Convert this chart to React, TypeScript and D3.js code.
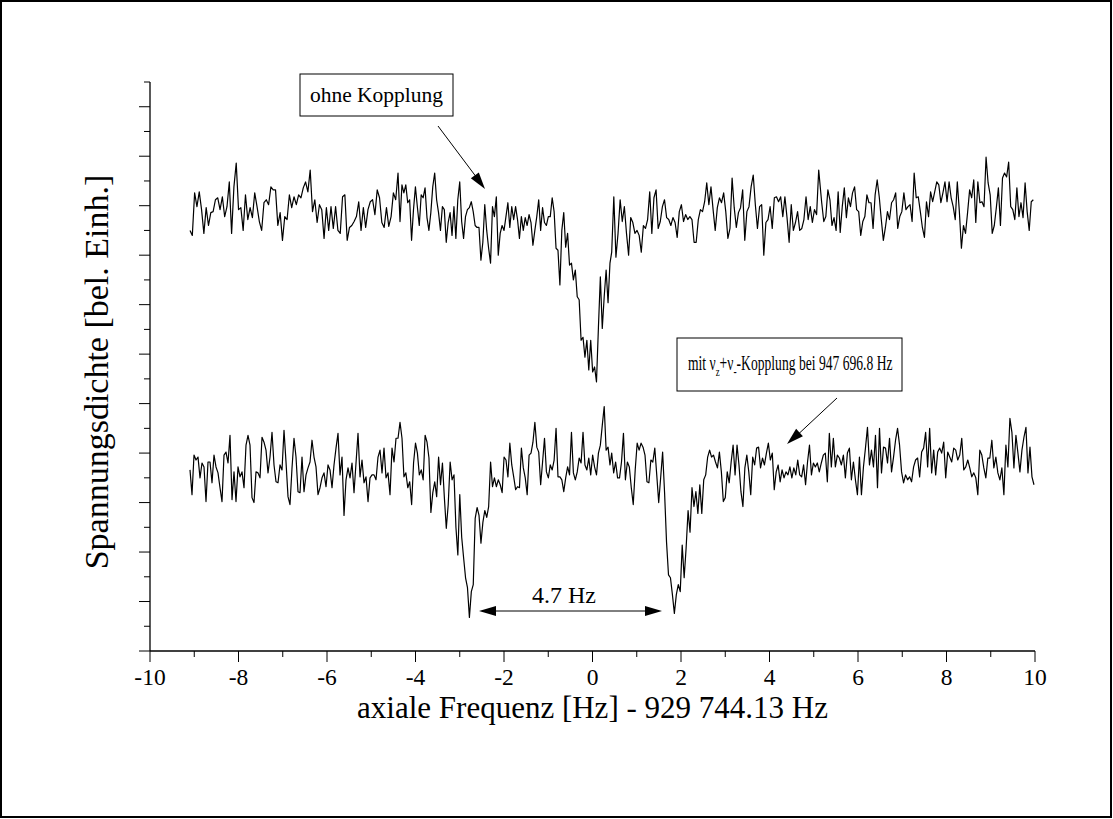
import React from "react";
import * as d3 from "d3";

// Upper trace ("ohne Kopplung"), arbitrary units
const U1 = [425,420,463,449,464,446,422,448,430,443,444,456,458,446,459,439,449,474,422,469,493,446,448,425,461,436,448,438,463,449,434,425,453,456,451,469,466,466,430,443,415,439,436,461,448,459,451,461,458,468,474,464,486,444,456,433,451,446,417,448,425,449,427,449,425,422,459,461,415,428,430,434,439,454,425,448,428,446,454,456,441,466,458,433,428,448,429,439,463,456,483];
const U2 = [434,471,463,471,453,456,415,446,469,449,430,461,458,468,438,425,443,469,483,456,443,425,449,446,413,433,443,420,449,417,456,474,434,417,439,446,448,454,444,430,428,428,395,413,451,425,407,392,449,439,459,400,422,430,425,439,453,428,449,436,449,436,417,439,425,438,430,441,433,410,425,439,456,425,448,433,430,439,439,458,444,407,405,370,425,443,408,422,390,392,375,385,358,355,314,317,297,314,284,314,282,287,272,327,378,326,358,385,352,392];
const U3 = [403,459,398,422,456,434,449,422,400,438,433,422,425,420,403,430,427,436,464,422,458,466,427,434,449,456,438,436,430,438,433,418,444,451,434,441,436,439,436,413,413,436,446,444,454,473,451,469,446,425,448,458,453,463,444,417,427,478,448,428,443,448,466,415,444,449,469,481,451,427,449,451,400,433,436,449,427,458,459,454,459,439,459,438,413,451,425,433,444,425,427,436,459,436,449,433,446,441,486];
const U4 = [453,434,439,466,456,430,438,425,464,423,449,468,438,458,449,463,469,446,444,420,434,439,461,453,453,427,461,476,459,436,415,428,444,436,453,456,463,427,439,444,463,446,449,451,434,483,458,459,444,428,418,454,439,464,454,464,474,471,453,463,474,454,474,458,449,436,474,444,407,430,422,443,466,458,476,433,474,453,454,449,499,473,461,422,430,448,468,430,478,483,479,494,449,446,436,468,439,453,438,473,444,425,454,456];

// Lower trace ("mit Kopplung")
const L1 = [183,158,198,193,196,175,190,186,151,191,191,170,198,186,180,165,151,198,201,190,218,153,181,151,186,176,181,165,208,218,208,155,150,181,180,175,216,211,203,180,196,221,188,171,170,188,183,223,191,156,148,185,215,196,161,160,196,161,178,185,191,213,196,186,158,165,175,180,166,188,183,165,188,205,220,178,196,137,173,185,175,190,160,190,220,176,193,170,176,151,175,178,178,173,196,203,180,205,175,180,158,205,191,215,215,231];
const L2 = [215,176,180,165,171,148,190,210,200,178,183,173,218,211,195,140,160,171,156,196,168,190,155,124,148,191,173,178,125,97,158,115,94,74,64,34,60,67,134,145,137,109,130,142,135,146,191,166,175,166,173,168,160,196,193,176,210,188,176,163,166,165,205,185,175,158,198,200,211,231,206,201,168,191,215,181,175,188,183,193,225,176,176,173,161,175,186,178,221,180,173,181,195,190,221,188,183,195,178,198,186,178,200,208,228,247,203,206,188];
const L3 = [200,180,191,175,175,191,220,173,191,186,165,148,183,210,203,210,206,198,171,170,193,191,205,178,150,175,201,160,110,77,74,57,38,57,67,60,107,74,104,142,120,165,146,161,139,168,139,173,178,196,203,196,198,191,185,201,181,151,155,181,170,191,208,178,208,188,161,146,185,198,181,158,196,188,205,206,185,195,188,200,210,193,200,163,181,188,171,183,175,181,178,186,175,185,178,193,178,176,188,168,191,208,178,190,186,190,181];
const L4 = [190,198,200,171,220,186,215,186,198,195,188,198,175,200,205,173,191,173,158,196,158,186,205,226,188,203,186,218,165,225,180,206,205,190,215,181,196,213,225,208,181,170,178,173,176,171,186,193,195,176,201,205,221,186,225,180,203,178,201,205,200,211,175,201,196,191,205,203,193,198,215,183,186,193,185,176,180,175,158,203,198,185,175,195,195,213,185,196,180,173,185,158,208,186,235,221,185,218,200,181,203,216,226,180,206,176,168];

// frequency span (Hz offset) covered by each block of samples
const upperSegments = [
  { from: -9.096, to: -4.395, values: U1 },
  { from: -4.35, to: 0.395, values: U2 },
  { from: 0.434, to: 5.112, values: U3 },
  { from: 5.18, to: 9.962, values: U4 },
];
const lowerSegments = [
  { from: -9.096, to: -4.35, values: L1 },
  { from: -4.305, to: 0.395, values: L2 },
  { from: 0.434, to: 5.125, values: L3 },
  { from: 5.171, to: 9.977, values: L4 },
];

const xMajorTicks = [-10, -8, -6, -4, -2, 0, 2, 4, 6, 8, 10];
const xMinorTicks = [-9, -7, -5, -3, -1, 1, 3, 5, 7, 9];
const yTicks = d3.range(0, 576, 25);

const xTitle = "axiale Frequenz [Hz] - 929 744.13 Hz";
const yTitle = "Spannungsdichte [bel. Einh.]";

const FONT = "'Liberation Serif', 'Times New Roman', serif";

function head(x1: number, y1: number, x2: number, y2: number, len = 17, half = 5) {
  const a = Math.atan2(y2 - y1, x2 - x1);
  const bx = x2 - len * Math.cos(a);
  const by = y2 - len * Math.sin(a);
  const px = -Math.sin(a) * half;
  const py = Math.cos(a) * half;
  return `${x2},${y2} ${bx + px},${by + py} ${bx - px},${by - py}`;
}

export default function App() {
  const x = d3.scaleLinear().domain([-10, 10]).range([150, 1035]);
  const y = d3.scaleLinear().domain([0, 575]).range([651, 82]);

  const toPts = (segs: { from: number; to: number; values: number[] }[]) =>
    segs.flatMap((s) =>
      s.values.map((v, i) => [s.from + (i * (s.to - s.from)) / (s.values.length - 1), v] as [number, number])
    );
  const line = d3
    .line<[number, number]>()
    .x((d) => x(d[0]))
    .y((d) => y(d[1]));

  const upper = line(toPts(upperSegments)) || "";
  const lower = line(toPts(lowerSegments)) || "";

  const x0 = x(-10);
  const yb = y(0);

  return (
    <svg
      width={1113}
      height={819}
      style={{ position: "absolute", left: 0, top: 0, background: "#fff" }}
      fontFamily={FONT}
    >
      <rect x={0} y={0} width={1113} height={819} fill="#fff" />
      <rect x={1} y={1} width={1110} height={816} fill="none" stroke="#000" strokeWidth={2} />

      {/* axes */}
      <line x1={x0} y1={y(575)} x2={x0} y2={yb} stroke="#000" strokeWidth={1.3} />
      <line x1={x0} y1={yb} x2={x(10)} y2={yb} stroke="#000" strokeWidth={1.3} />
      {yTicks.map((t) => (
        <line
          key={"yt" + t}
          x1={x0 - (t % 50 === 0 ? 11 : 6)}
          x2={x0}
          y1={y(t)}
          y2={y(t)}
          stroke="#000"
          strokeWidth={1}
        />
      ))}
      {xMajorTicks.map((t) => (
        <line key={"xM" + t} x1={x(t)} x2={x(t)} y1={yb} y2={yb + 11} stroke="#000" strokeWidth={1} />
      ))}
      {xMinorTicks.map((t) => (
        <line key={"xm" + t} x1={x(t)} x2={x(t)} y1={yb} y2={yb + 6} stroke="#000" strokeWidth={1} />
      ))}
      {xMajorTicks.map((t) => (
        <text key={"xl" + t} x={x(t)} y={685} textAnchor="middle" fontSize={23.5} fill="#000">
          {String(t)}
        </text>
      ))}

      <text x={x(0)} y={718} textAnchor="middle" fontSize={31} fill="#000">
        {xTitle}
      </text>
      <text
        transform={`translate(108, 372) rotate(-90)`}
        textAnchor="middle"
        fontSize={34}
        fill="#000"
      >
        {yTitle}
      </text>

      {/* traces */}
      <path d={upper} fill="none" stroke="#000" strokeWidth={1.2} strokeLinejoin="round" />
      <path d={lower} fill="none" stroke="#000" strokeWidth={1.2} strokeLinejoin="round" />

      {/* annotation: ohne Kopplung */}
      <rect x={300} y={74} width={153} height={42} fill="#fff" stroke="#000" strokeWidth={1} />
      <text x={376.5} y={102} textAnchor="middle" fontSize={21.5} fill="#000">
        ohne Kopplung
      </text>
      <line x1={438} y1={126} x2={480} y2={182} stroke="#000" strokeWidth={1} />
      <polygon points={head(438, 126, 485, 189)} fill="#000" />

      {/* annotation: mit Kopplung */}
      <rect x={677} y={338} width={225} height={53} fill="#fff" stroke="#000" strokeWidth={1} />
      <text transform="translate(688, 370) scale(0.68, 1)" fontSize={20} fill="#000">
        mit ν
        <tspan dy={6} fontSize={13}>z</tspan>
        <tspan dy={-6}>+ν</tspan>
        <tspan dy={6} fontSize={14}>-</tspan>
        <tspan dy={-6}>-Kopplung bei 947 696.8 Hz</tspan>
      </text>
      <line x1={837} y1={398} x2={792} y2={440} stroke="#000" strokeWidth={1} />
      <polygon points={head(837, 398, 787, 444)} fill="#000" />

      {/* 4.7 Hz separation */}
      <text x={564} y={603} textAnchor="middle" fontSize={24} fill="#000">
        4.7 Hz
      </text>
      <line x1={482} y1={611} x2={659} y2={611} stroke="#000" strokeWidth={1} />
      <polygon points={head(662, 611, 479, 611)} fill="#000" />
      <polygon points={head(479, 611, 662, 611)} fill="#000" />
    </svg>
  );
}
